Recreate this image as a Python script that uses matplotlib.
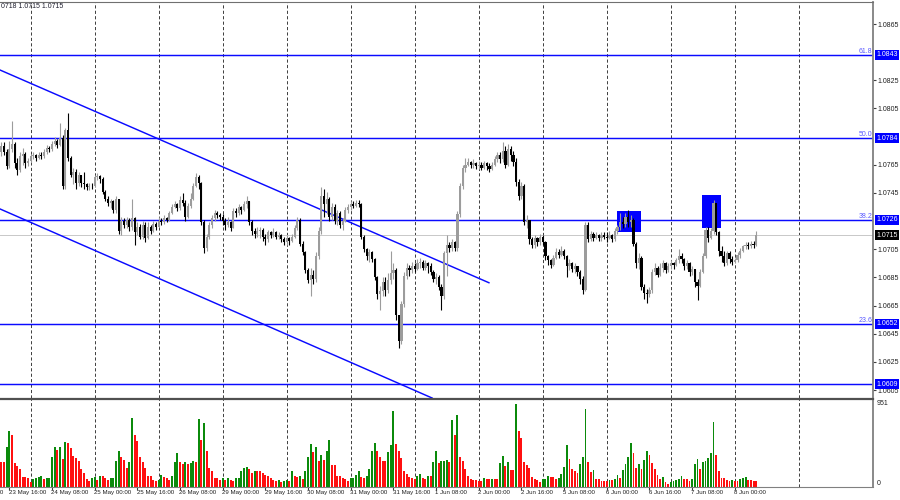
import matplotlib
matplotlib.use("Agg")
import matplotlib.pyplot as plt
import matplotlib.transforms as mtransforms
from matplotlib.patches import Rectangle
import numpy as np

plt.rcParams['font.family'] = ['Liberation Sans', 'DejaVu Sans']

# EURUSD H1, 23 May 13:00 -> 8 Jun 08:00, prices in pips above 1.0600
BASE = 1.0600
first_open = 174
closes = [
    178, 174, 164, 176, 180, 166, 161, 171, 173, 166, 168,  # 23 May
    171, 172, 170, 172, 171, 174, 177, 176, 180, 182, 179, 184, 150, 190, 170, 158, 160, 152, 158, 152, 151, 149, 150, 150,  # 24 May
    156, 157, 155, 146, 141, 138, 139, 133, 141, 118, 125, 122, 126, 121, 127, 117, 121, 114, 122, 113, 121, 118, 123, 121,  # 25 May
    125, 124, 127, 126, 131, 135, 137, 134, 140, 138, 128, 136, 141, 150, 156, 152, 124, 106, 114, 122, 127, 131, 129, 128,  # 26 May
    125, 122, 124, 120, 132, 131, 135, 133, 137, 139, 124, 118, 116, 118, 119, 114, 112, 117, 115, 117, 114, 115, 112, 110,  # 29 May
    113, 111, 114, 120, 126, 109, 103, 90, 83, 87, 84, 100, 118, 143, 137, 141, 128, 135, 125, 131, 122, 125, 133, 135,  # 30 May
    137, 136, 138, 137, 114, 105, 100, 103, 98, 85, 73, 75, 82, 76, 83, 88, 90, 58, 40, 66, 86, 92, 90, 93,  # 31 May
    91, 95, 96, 92, 95, 93, 89, 84, 85, 78, 72, 102, 108, 106, 110, 106, 130, 150, 163, 165, 167, 165, 166, 164,  # 1 Jun
    165, 163, 166, 164, 162, 165, 169, 172, 169, 175, 165, 176, 172, 167, 153, 143, 150, 124, 126, 112, 108, 113, 110, 114,  # 2 Jun
    110, 100, 97, 94, 99, 103, 101, 104, 100, 93, 95, 91, 93, 89, 84, 76, 122, 112, 116, 113, 115, 113, 115, 114,  # 5 Jun
    113, 115, 112, 118, 121, 124, 123, 128, 124, 126, 109, 95, 99, 78, 74, 73, 76, 89, 92, 87, 92, 95, 90, 93,  # 6 Jun
    95, 94, 97, 100, 98, 93, 95, 89, 91, 82, 79, 89, 100, 119, 113, 118, 138, 117, 104, 100, 95, 102, 98, 96,  # 7 Jun
    97, 101, 104, 107, 108, 107, 109, 108, 115,  # 8 Jun
]
highs = [
    181, 181, 176, 182, 196, 181, 170, 174, 177, 174, 170,
    173, 174, 173, 174, 174, 176, 179, 178, 182, 185, 183, 195, 186, 191, 202, 171, 163, 162, 160, 158, 160, 152, 152, 152,
    158, 159, 158, 156, 147, 143, 141, 140, 143, 141, 128, 127, 128, 127, 141, 128, 124, 123, 125, 124, 124, 122, 125, 124,
    128, 127, 129, 128, 132, 137, 139, 138, 143, 145, 140, 138, 145, 152, 159, 158, 153, 126, 116, 124, 129, 133, 132, 131,
    130, 127, 128, 125, 134, 134, 137, 136, 139, 143, 138, 126, 120, 121, 121, 120, 116, 119, 118, 120, 118, 117, 116, 114,
    115, 114, 116, 122, 128, 127, 111, 104, 92, 92, 90, 103, 121, 149, 148, 146, 142, 138, 137, 133, 132, 127, 135, 137,
    139, 139, 140, 140, 138, 115, 106, 105, 104, 99, 86, 79, 85, 85, 88, 104, 95, 92, 58, 68, 89, 95, 94, 96,
    95, 98, 99, 97, 97, 96, 95, 90, 88, 87, 80, 104, 115, 110, 112, 111, 132, 152, 165, 170, 170, 168, 169, 167,
    168, 167, 168, 167, 166, 167, 171, 174, 174, 181, 178, 180, 178, 175, 170, 155, 153, 151, 129, 126, 114, 115, 114, 116,
    115, 111, 101, 98, 101, 106, 105, 107, 105, 101, 98, 96, 95, 93, 90, 86, 124, 124, 118, 117, 117, 116, 117, 117,
    117, 118, 116, 120, 122, 131, 128, 131, 133, 129, 127, 110, 102, 100, 80, 77, 78, 91, 95, 93, 95, 97, 96, 95,
    97, 96, 99, 105, 102, 99, 97, 96, 93, 91, 84, 91, 102, 121, 121, 120, 140, 138, 118, 107, 104, 104, 104, 100,
    99, 103, 106, 108, 110, 110, 111, 111, 118,
]
lows = [
    171, 172, 162, 163, 174, 163, 158, 160, 165, 163, 164,
    167, 169, 168, 169, 169, 170, 173, 174, 175, 178, 177, 178, 148, 148, 168, 156, 151, 148, 150, 149, 148, 147, 147, 148,
    149, 154, 152, 144, 139, 136, 134, 131, 131, 116, 115, 120, 120, 118, 119, 108, 115, 112, 112, 110, 112, 116, 117, 119,
    121, 122, 123, 124, 125, 130, 134, 132, 133, 136, 125, 127, 134, 140, 149, 148, 122, 102, 104, 112, 120, 125, 127, 126,
    122, 119, 121, 118, 120, 128, 129, 130, 132, 134, 122, 115, 113, 114, 113, 111, 108, 110, 113, 114, 112, 112, 110, 108,
    108, 108, 110, 113, 119, 107, 101, 88, 81, 72, 80, 82, 98, 116, 128, 130, 125, 126, 123, 122, 120, 119, 124, 131,
    133, 134, 135, 135, 112, 103, 97, 96, 96, 83, 70, 62, 72, 72, 74, 80, 84, 55, 35, 38, 64, 84, 86, 88,
    89, 90, 92, 90, 90, 88, 87, 82, 80, 76, 62, 70, 86, 103, 104, 104, 104, 128, 148, 160, 164, 163, 163, 162,
    162, 161, 162, 161, 160, 161, 164, 167, 166, 167, 163, 164, 168, 164, 150, 140, 141, 122, 120, 109, 106, 106, 107, 108,
    108, 97, 94, 92, 93, 98, 99, 100, 98, 85, 90, 89, 88, 86, 80, 73, 75, 110, 111, 111, 112, 111, 111, 112,
    110, 112, 110, 111, 116, 119, 120, 121, 121, 121, 107, 92, 91, 76, 70, 67, 71, 74, 87, 85, 86, 89, 88, 89,
    91, 91, 93, 95, 95, 90, 91, 86, 87, 78, 69, 78, 88, 99, 110, 112, 116, 115, 100, 96, 93, 94, 95, 94,
    95, 96, 99, 103, 105, 105, 106, 106, 107,
]
volumes = [
    282, 282, 457, 642, 592, 275, 244, 205, 116, 116, 100,
    62, 97, 100, 120, 128, 89, 100, 102, 348, 457, 425, 464, 325, 515, 503, 449, 356, 333, 294, 205, 166, 89, 70, 108,
    116, 77, 128, 128, 100, 77, 100, 108, 294, 418, 341, 310, 217, 283, 786, 600, 526, 341, 283, 217, 128, 128, 77, 70,
    85, 139, 116, 100, 85, 128, 283, 387, 283, 263, 283, 263, 271, 302, 290, 774, 534, 728, 418, 217, 178, 108, 100, 85,
    100, 85, 100, 77, 70, 100, 108, 186, 217, 232, 205, 166, 186, 186, 178, 166, 139, 124, 108, 85, 70, 85, 62, 70,
    81, 70, 186, 128, 116, 128, 89, 178, 348, 488, 399, 457, 302, 372, 310, 418, 534, 255, 255, 128, 128, 108, 89, 70,
    100, 108, 139, 186, 116, 108, 128, 205, 418, 507, 418, 348, 302, 302, 400, 476, 875, 488, 418, 333, 178, 147, 116, 100,
    89, 128, 147, 108, 89, 128, 128, 283, 418, 271, 294, 302, 310, 283, 762, 592, 820, 348, 302, 205, 128, 89, 81, 77,
    70, 66, 104, 93, 93, 97, 97, 97, 271, 360, 244, 290, 193, 193, 951, 639, 561, 290, 251, 213, 116, 97, 77, 58,
    89, 97, 128, 116, 116, 89, 104, 150, 232, 476, 321, 205, 182, 166, 259, 348, 890, 282, 174, 193, 97, 89, 66, 66,
    66, 77, 77, 97, 135, 104, 193, 259, 348, 503, 387, 221, 259, 205, 309, 414, 368, 271, 205, 135, 89, 116, 58, 39,
    58, 66, 77, 97, 124, 97, 97, 70, 97, 259, 321, 205, 290, 298, 329, 387, 743, 368, 182, 108, 104, 77, 70, 77,
    70, 66, 97, 104, 116, 77, 77, 74, 74,
]

# time axis (bar index of each label, first one is cut off on the left)
label_bars = [-13, 3, 19, 35, 51, 67, 83, 99, 115, 131, 147, 163, 179, 195, 211, 227, 243, 259, 275]
time_labels = ["23 May 00:00", "23 May 16:00", "24 May 08:00", "25 May 00:00", "25 May 16:00",
               "26 May 08:00", "29 May 00:00", "29 May 16:00", "30 May 08:00", "31 May 00:00",
               "31 May 16:00", "1 Jun 08:00", "2 Jun 00:00", "2 Jun 16:00", "5 Jun 08:00",
               "6 Jun 00:00", "6 Jun 16:00", "7 Jun 08:00", "8 Jun 00:00"]
day_starts = [11, 35, 59, 83, 107, 131, 155, 179, 203, 227, 251, 275, 299]

# scale labels on the right (those under a level tag are hidden)
price_ticks = [1.0865, 1.0825, 1.0805, 1.0765, 1.0745, 1.0705, 1.0685, 1.0665, 1.0645, 1.0625, 1.0605]

fib_levels = [1.0843, 1.0784, 1.0726, 1.0652]
fib_names = ["61.8", "50.0", "38.2", "23.6"]
extra_level = 1.0609
last_price = 1.0715

# channel lines: (bar index, price) end points
upper_x, upper_y = [-0.5, 182.8], [1.08323, 1.06812]
lower_x, lower_y = [-0.5, 161.5], [1.07336, 1.05993]

# marked tests of the 38.2 level: bar from, bar to, price low, price high
boxes = [(230.7, 239.7, 1.07172, 1.07322), (262.7, 269.7, 1.07200, 1.07435)]

BLUE = '#0a0aff'
BULL = '#9c9c9c'
BEAR = '#000000'
FS = 5.0
FS_TIME = 4.45

n = min(len(closes), len(highs), len(lows), len(volumes))
idx = np.arange(n)
c = BASE + np.array(closes[:n]) / 1e4
o = np.concatenate([[BASE + first_open / 1e4], c[:-1]])
h = np.maximum(BASE + np.array(highs[:n]) / 1e4, np.maximum(o, c))
l = np.minimum(BASE + np.array(lows[:n]) / 1e4, np.minimum(o, c))
v = np.array(volumes[:n])

fig = plt.figure(figsize=(9, 5), dpi=100, facecolor='white')
ax = fig.add_axes([0, 0.204, 0.97, 0.792])
axv = fig.add_axes([0, 0.026, 0.97, 0.177])

x_min, x_max = -0.525, 326.8
ax.set_xlim(x_min, x_max)
axv.set_xlim(x_min, x_max)
ax.set_ylim(1.059932, 1.088063)
axv.set_ylim(0, 1014)

# day separators
for d in day_starts:
    ax.axvline(d, color='#303030', lw=0.65, ls=(0, (3.5, 2.5)), zorder=0.3)
    axv.axvline(d, color='#303030', lw=0.65, ls=(0, (3.5, 2.5)), zorder=0.3)

# levels and lines
ax.axhline(last_price, color='#c8c8c8', lw=0.7, zorder=0.5)
for lvl in fib_levels + [extra_level]:
    ax.axhline(lvl, color=BLUE, lw=1.05, zorder=1)
ax.plot(upper_x, upper_y, color=BLUE, lw=1.05, zorder=1.2)
ax.plot(lower_x, lower_y, color=BLUE, lw=1.05, zorder=1.2)
for x0, x1, y0, y1 in boxes:
    ax.add_patch(Rectangle((x0, y0), x1 - x0, y1 - y0, fc='#0000ff', ec='none', zorder=1.5))

# candles
bull = c > o
cols = np.where(bull, BULL, BEAR)
ax.vlines(idx, l, h, colors=cols, lw=0.8, zorder=2)
body = np.maximum(np.abs(c - o), 0.25e-4)
ax.bar(idx, body, bottom=np.minimum(o, c), width=0.78, color=cols, linewidth=0, zorder=2.1)

# volumes
prev = np.concatenate([[v[0]], v[:-1]])
vcols = np.where(v > prev, '#0b8a0b', '#ff1010')
axv.bar(idx, v, width=0.74, color=vcols, linewidth=0, zorder=2)

# price axis
ax.yaxis.tick_right()
ax.set_yticks(price_ticks)
ax.set_yticklabels([f"{t:.4f}" for t in price_ticks])
ax.tick_params(axis='y', labelsize=FS, length=2, pad=1.5, color='#404040', labelcolor='#202020')
ax.set_xticks([])

tr = mtransforms.blended_transform_factory(ax.transAxes, ax.transData)
for lvl, name in zip(fib_levels, fib_names):
    ax.text(0.999, lvl, name, transform=tr, ha='right', va='bottom', fontsize=FS,
            color='#5a5aff', zorder=5)
for lvl in fib_levels + [extra_level]:
    ax.text(1.0036, lvl, f"{lvl:.4f}", transform=tr, ha='left', va='center', fontsize=FS,
            color='white', zorder=10, clip_on=False,
            bbox=dict(boxstyle='square,pad=0.2', fc='#0000ff', ec='none'))
ax.text(1.0036, last_price, f"{last_price:.4f}", transform=tr, ha='left', va='center',
        fontsize=FS, color='white', zorder=10, clip_on=False,
        bbox=dict(boxstyle='square,pad=0.2', fc='#000000', ec='none'))

# volume axis
axv.set_yticks([])
trv = mtransforms.blended_transform_factory(axv.transAxes, axv.transData)
axv.text(1.004, 951, "951", transform=trv, ha='left', va='center', fontsize=FS, color='#202020')
axv.text(1.004, 0, "0", transform=trv, ha='left', va='bottom', fontsize=FS, color='#202020')
axv.set_xticks([b for b in label_bars if b >= 0])
axv.tick_params(axis='x', length=2, labelbottom=False, color='#404040')
trx = mtransforms.blended_transform_factory(axv.transData, axv.transAxes)
for b, t in zip(label_bars, time_labels):
    axv.text(b - 0.3, -0.035, t, transform=trx, ha='left', va='top', fontsize=FS_TIME,
             color='#202020', clip_on=False)

fig.text(0.001, 1 - 7 / 500, "0718 1.0715 1.0715", ha='left', va='center', fontsize=FS, color='#202030')

for spine in ['left', 'bottom']:
    ax.spines[spine].set_visible(False)
ax.spines['top'].set_color('#707070')
ax.spines['top'].set_linewidth(0.8)
ax.spines['right'].set_color('#808080')
ax.spines['right'].set_linewidth(1.3)
axv.spines['left'].set_visible(False)
axv.spines['top'].set_color('#505050')
axv.spines['top'].set_linewidth(1.6)
axv.spines['bottom'].set_color('#808080')
axv.spines['right'].set_color('#808080')
axv.spines['right'].set_linewidth(1.3)

fig.savefig("out.png", dpi=100)
